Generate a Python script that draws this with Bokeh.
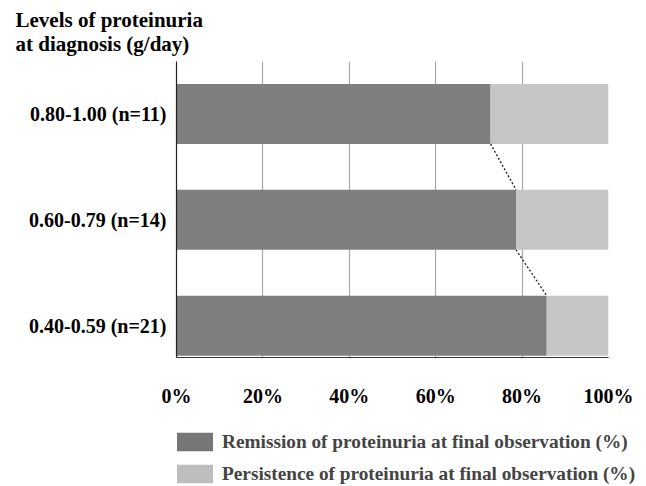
from bokeh.plotting import figure
from bokeh.models import FixedTicker, Title, Legend, LegendItem, ColumnDataSource
from bokeh.embed import file_html
from bokeh.resources import INLINE

categories = ["0.40-0.59 (n=21)", "0.60-0.79 (n=14)", "0.80-1.00 (n=11)"]
remission = [85.7, 78.6, 72.7]
persistence = [14.3, 21.4, 27.3]
x_ticks = [0, 20, 40, 60, 80, 100]
x_tick_labels = ["0%", "20%", "40%", "60%", "80%", "100%"]
legend_labels = ["Remission of proteinuria at final observation (%)",
                 "Persistence of proteinuria at final observation (%)"]
title_text = "Levels of proteinuria\nat diagnosis (g/day)"

FONT = "Liberation Serif"
DARK = "#7f7f7f"
LIGHT = "#c5c6c5"

ypos = list(range(len(categories)))
bar_h = 0.566

p = figure(frame_width=432, frame_height=296, x_range=(0, 100), y_range=(-0.30, 2.495),
           output_backend="svg", toolbar_location=None,
           min_border_left=176, min_border_right=38, min_border_top=0, min_border_bottom=52)
p.outline_line_color = None
p.background_fill_color = "white"
p.title = None

src = ColumnDataSource(dict(y=ypos, rem=remission,
                            tot=[r + q for r, q in zip(remission, persistence)]))
r1 = p.hbar(y="y", left=0, right="rem", height=bar_h, fill_color=DARK, line_color=None, source=src)
r2 = p.hbar(y="y", left="rem", right="tot", height=bar_h, fill_color=LIGHT, line_color=None, source=src)

# dotted connectors between bar ends
for i in range(len(ypos) - 1, 0, -1):
    p.line([remission[i], remission[i - 1]],
           [ypos[i] - bar_h / 2, ypos[i - 1] + bar_h / 2],
           line_color="#222222", line_width=1.3, line_dash="2 2")

p.xgrid.ticker = FixedTicker(ticks=x_ticks)
p.xgrid.grid_line_color = "#a8a8a8"
p.xgrid.grid_line_width = 1.2
p.ygrid.grid_line_color = None

xa = p.xaxis[0]
xa.ticker = FixedTicker(ticks=x_ticks)
xa.major_label_overrides = {t: l for t, l in zip(x_ticks, x_tick_labels)}
xa.major_tick_line_color = None
xa.minor_tick_line_color = None
xa.axis_line_color = "#333333"
xa.axis_line_width = 1.2
xa.major_label_text_font = FONT
xa.major_label_text_font_style = "bold"
xa.major_label_text_font_size = "20px"
xa.major_label_text_color = "black"
xa.major_label_standoff = 21

ya = p.yaxis[0]
ya.ticker = FixedTicker(ticks=ypos)
ya.major_label_overrides = {y: c for y, c in zip(ypos, categories)}
ya.major_tick_line_color = None
ya.minor_tick_line_color = None
ya.axis_line_color = "#222222"
ya.axis_line_width = 1.2
ya.major_label_text_font = FONT
ya.major_label_text_font_style = "bold"
ya.major_label_text_font_size = "20px"
ya.major_label_text_color = "black"
ya.major_label_standoff = 4

p.add_layout(Title(text=title_text, align="left", offset=-161, standoff=11,
                   text_font=FONT, text_font_style="bold", text_font_size="21px",
                   text_color="black"), "above")

# legend lives in a separate strip below the chart (own root, full-width frame)
lf = figure(width=646, height=76, x_range=(0, 1), y_range=(0, 1),
            x_axis_location=None, y_axis_location=None,
            output_backend="svg", toolbar_location=None,
            min_border_left=0, min_border_right=0, min_border_top=0, min_border_bottom=0)
lf.grid.visible = False
lf.outline_line_color = None
lf.title = None
d1 = lf.hbar(y=[5], left=[5], right=[6], height=0.1, fill_color="#767676", line_color=None)
d2 = lf.hbar(y=[5], left=[5], right=[6], height=0.1, fill_color="#bdbdbd", line_color=None)
legend = Legend(items=[LegendItem(label=legend_labels[0], renderers=[d1]),
                       LegendItem(label=legend_labels[1], renderers=[d2])],
                location=(172, 0), orientation="vertical",
                glyph_width=45, glyph_height=23, label_height=23, spacing=9,
                label_text_font=FONT, label_text_font_style="bold", label_text_font_size="19.3px",
                label_standoff=5, padding=0, margin=0,
                border_line_color=None, background_fill_alpha=0)
lf.add_layout(legend)

open("out.html", "w").write(file_html([p, lf], INLINE))
